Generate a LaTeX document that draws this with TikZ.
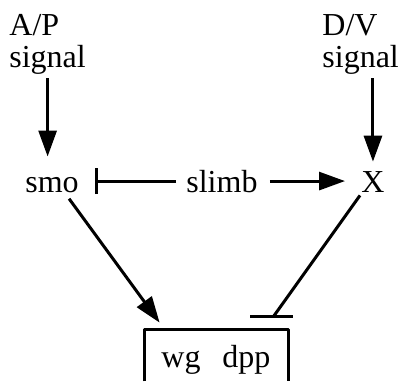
\documentclass[tikz,border=0pt]{standalone}
\usepackage{fontspec}
\setmainfont{Liberation Serif}
\usetikzlibrary{arrows.meta}
\usetikzlibrary{calc}

\begin{document}
\begin{tikzpicture}[x=0.5pt,y=-0.5pt,
    every node/.style={font=\fontsize{16}{16}\selectfont, inner sep=2pt},
    act/.style={line width=1.5pt, -{Triangle[length=13pt,width=9pt]}},
    inh/.style={line width=1.5pt, -{Bar[width=13pt]}}]
      \useasboundingbox (0,0) rectangle (401,381);

      % Signals
      \node[anchor=base west, align=left, inner sep=0pt] (ap) at (9,67) {A/P\\signal};
      \node[anchor=base west, align=left, inner sep=0pt] (dv) at (322,67) {D/V\\signal};

      % Genes
      \node[anchor=base west] (smo) at (21,192) {smo};
      \node[anchor=base west] (slimb) at (182,192) {slimb};
      \node[anchor=base west] (X) at (357,192) {X};

      % Target box, open at the bottom
      \node[minimum width=71.5pt, minimum height=25.5pt] (box) at (216.5,355.5) {};
      \node[anchor=base west] (genes) at (157,367) {wg\hspace{11pt}dpp};
      \draw[line width=1.5pt, line join=round] (box.south west) -- (box.north west) -- (box.north east) -- (box.south east);

      % Connectors
      \draw[act, shorten <=2pt, shorten >=8pt] (ap.south) -- (ap.south |- smo.north);
      \draw[act, shorten <=2pt, shorten >=2.5pt] (X |- dv.south) -- (X.north);
      \draw[inh, shorten <=3pt, shorten >=6pt] (slimb.west) -- (slimb.west -| smo.east);
      \draw[act, shorten <=4pt, shorten >=6pt] (slimb.east) -- (slimb.east -| X.west);
      \draw[act] ($(smo.south)+(17,2)$) -- ($(box.north west)+(15,-7)$);

      % X stops the box: bar lies flat
      \coordinate (xstop) at ($(box.north east)+(-15,-13)$);
      \draw[line width=1.5pt] ($(X.south west)+(3,-1)$) -- (xstop);
      \draw[line width=1.5pt] ($(xstop)+(-23,0)$) -- ($(xstop)+(20,0)$);

  \end{tikzpicture}
\end{document}
